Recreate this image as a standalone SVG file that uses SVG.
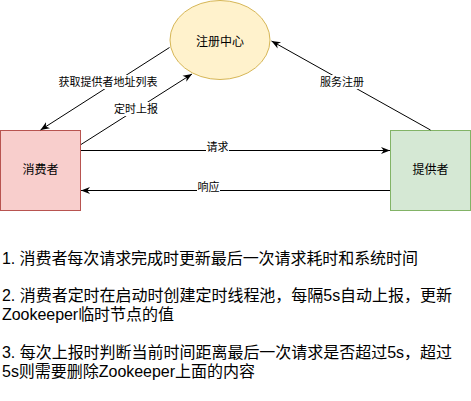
<svg xmlns="http://www.w3.org/2000/svg" width="471" height="401" viewBox="0 0 471 401">
<style>
text{font-family:"Liberation Sans","Noto Sans CJK SC",sans-serif;fill:#000}
.n{font-size:12px;text-anchor:middle}
.l{font-size:11px;text-anchor:middle}
.t{font-size:16px}
.e{stroke:#000;stroke-width:1;fill:none;marker-end:url(#arr)}
.bg{fill:#fff}
</style>
<defs>
<marker id="arr" viewBox="0 0 10 10" refX="10" refY="5" markerWidth="9" markerHeight="9" markerUnits="userSpaceOnUse" orient="auto">
<path d="M0,1 L10,5 L0,9 L3,5 Z" fill="#000"/>
</marker>
</defs>
<rect width="471" height="401" fill="#fff"/>
<g id="registry">
<ellipse cx="220" cy="40" rx="50" ry="39.5" fill="#fff2cc" stroke="#d6b656"/>
<text class="n" x="220" y="46">注册中心</text>
</g>
<g id="consumer">
<rect x="0.5" y="130.5" width="80" height="80" fill="#f8cecc" stroke="#b85450"/>
<text class="n" x="40.5" y="174">消费者</text>
</g>
<g id="provider">
<rect x="390.5" y="130.5" width="80" height="80" fill="#d5e8d4" stroke="#82b366"/>
<text class="n" x="430.5" y="174">提供者</text>
</g>
<g id="connectors">
<line class="e" x1="169.5" y1="47.5" x2="40.5" y2="130"/>
<line class="e" x1="81" y1="144.5" x2="192" y2="74"/>
<line class="e" x1="430.5" y1="130" x2="271.5" y2="41"/>
<line class="e" x1="81" y1="150.5" x2="390" y2="150.5"/>
<line class="e" x1="390" y1="190.5" x2="81" y2="190.5"/>
<rect class="bg" x="58" y="75" width="100" height="14"/>
<text class="l" x="108" y="86">获取提供者地址列表</text>
<rect class="bg" x="114" y="102" width="44" height="14"/>
<text class="l" x="136" y="113">定时上报</text>
<rect class="bg" x="320" y="75" width="44" height="14"/>
<text class="l" x="342" y="86">服务注册</text>
<rect class="bg" x="206" y="141" width="23" height="13"/>
<text class="l" x="217.5" y="151">请求</text>
<rect class="bg" x="197" y="181" width="23" height="13"/>
<text class="l" x="208.5" y="191">响应</text>
</g>
<g id="notes">
<text class="t" x="2" y="264" textLength="416">1. 消费者每次请求完成时更新最后一次请求耗时和系统时间</text>
<text class="t" x="2" y="301" textLength="450">2. 消费者定时在启动时创建定时线程池，每隔5s自动上报，更新</text>
<text class="t" x="2" y="320" textLength="172">Zookeeper临时节点的值</text>
<text class="t" x="2" y="358" textLength="450">3. 每次上报时判断当前时间距离最后一次请求是否超过5s，超过</text>
<text class="t" x="2" y="377" textLength="253">5s则需要删除Zookeeper上面的内容</text>
</g>
</svg>
